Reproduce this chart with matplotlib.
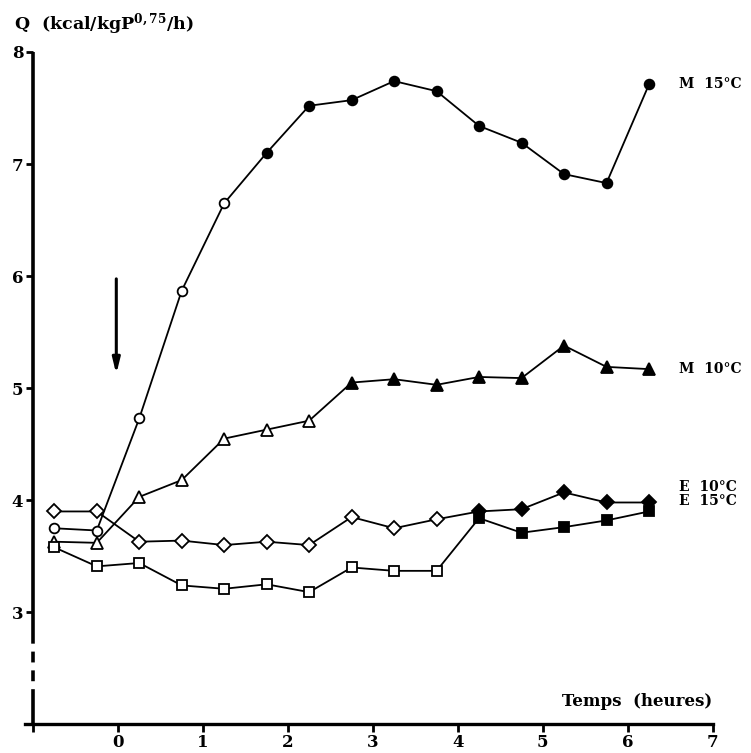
import matplotlib.pyplot as plt
import numpy as np

plt.rcParams['font.family'] = 'DejaVu Serif'
plt.rcParams['font.weight'] = 'bold'
plt.rcParams['mathtext.fontset'] = 'dejavuserif'
plt.rcParams['mathtext.default'] = 'bf'

# temps (heures), mesures toutes les 30 min
temps = [-0.75, -0.25, 0.25, 0.75, 1.25, 1.75, 2.25, 2.75, 3.25, 3.75,
         4.25, 4.75, 5.25, 5.75, 6.25]

m15 = [3.75, 3.73, 4.73, 5.87, 6.65, 7.10, 7.52, 7.57, 7.74, 7.65,
       7.34, 7.19, 6.91, 6.83, 7.71]
m10 = [3.63, 3.62, 4.03, 4.18, 4.55, 4.63, 4.71, 5.05, 5.08, 5.03,
       5.10, 5.09, 5.38, 5.19, 5.17]
e10 = [3.90, 3.90, 3.63, 3.64, 3.60, 3.63, 3.60, 3.85, 3.75, 3.83,
       3.90, 3.92, 4.07, 3.98, 3.98]
e15 = [3.58, 3.41, 3.44, 3.24, 3.21, 3.25, 3.18, 3.40, 3.37, 3.37,
       3.84, 3.71, 3.76, 3.82, 3.90]

# (label, valeurs, marqueur, taille, premier point plein, position du label)
series = [
    ('M 15°C', m15, 'o', 7, 5, 7.71),
    ('M 10°C', m10, '^', 8.5, 7, 5.17),
    ('E 10°C', e10, 'D', 7.5, 10, 4.12),
    ('E 15°C', e15, 's', 6.5, 10, 3.99),
]

fig = plt.figure(figsize=(7.51, 7.53), dpi=100)
ax = fig.add_axes([0.044, 0.038, 0.905, 0.893])

t = np.array(temps)
for label, vals, mk, ms, k, ylab in series:
    v = np.array(vals)
    ax.plot(t, v, '-', color='black', lw=1.3, zorder=2)
    ax.plot(t[:k], v[:k], mk, ms=ms, mfc='white', mec='black', mew=1.3,
            ls='none', zorder=3)
    ax.plot(t[k:], v[k:], mk, ms=ms, mfc='black', mec='black', mew=1.3,
            ls='none', zorder=3)
    ax.text(6.6, ylab, label.replace(' ', '  '), fontsize=10, fontweight='bold',
            va='center', ha='left')

# fleche (debut du traitement)
ax.annotate('', xy=(-0.02, 5.1), xytext=(-0.02, 6.0),
            arrowprops=dict(arrowstyle='-|>,head_width=0.22,head_length=0.9',
                            color='black', lw=2.2))

ax.set_xlim(-1, 7)
ax.set_ylim(2, 8)

ax.spines['top'].set_visible(False)
ax.spines['right'].set_visible(False)
ax.spines['left'].set_visible(False)
ax.spines['bottom'].set_linewidth(2.4)
ax.spines['bottom'].set_bounds(-1.1, 7)

# axe vertical interrompu
ax.plot([-1, -1], [2.75, 8], color='black', lw=2.6, clip_on=False,
        solid_capstyle='butt')
ax.plot([-1, -1], [2.22, 2.75], color='black', lw=2.6, clip_on=False,
        linestyle=(0, (3, 2.2)))
ax.plot([-1, -1], [2.0, 2.22], color='black', lw=2.6, clip_on=False,
        solid_capstyle='butt')

ax.set_xticks(range(-1, 8))
ax.set_xticklabels([''] + [str(i) for i in range(0, 8)])
ax.set_yticks(range(3, 9))
ax.set_yticklabels([str(i) for i in range(3, 9)])
ax.tick_params(axis='x', direction='out', length=6, width=2, labelsize=12, pad=1)
ax.tick_params(axis='y', direction='out', length=5, width=2, labelsize=12, pad=2)
for lab in ax.get_xticklabels() + ax.get_yticklabels():
    lab.set_fontweight('bold')

fig.text(0.018, 0.968, r'Q  (kcal/kgP$^{0,75}$/h)', fontsize=12.5,
         fontweight='bold', ha='left', va='center')
ax.text(7, 2.2, 'Temps  (heures)', fontsize=12, fontweight='bold',
        ha='right', va='center')

fig.savefig('out.png', dpi=100)
